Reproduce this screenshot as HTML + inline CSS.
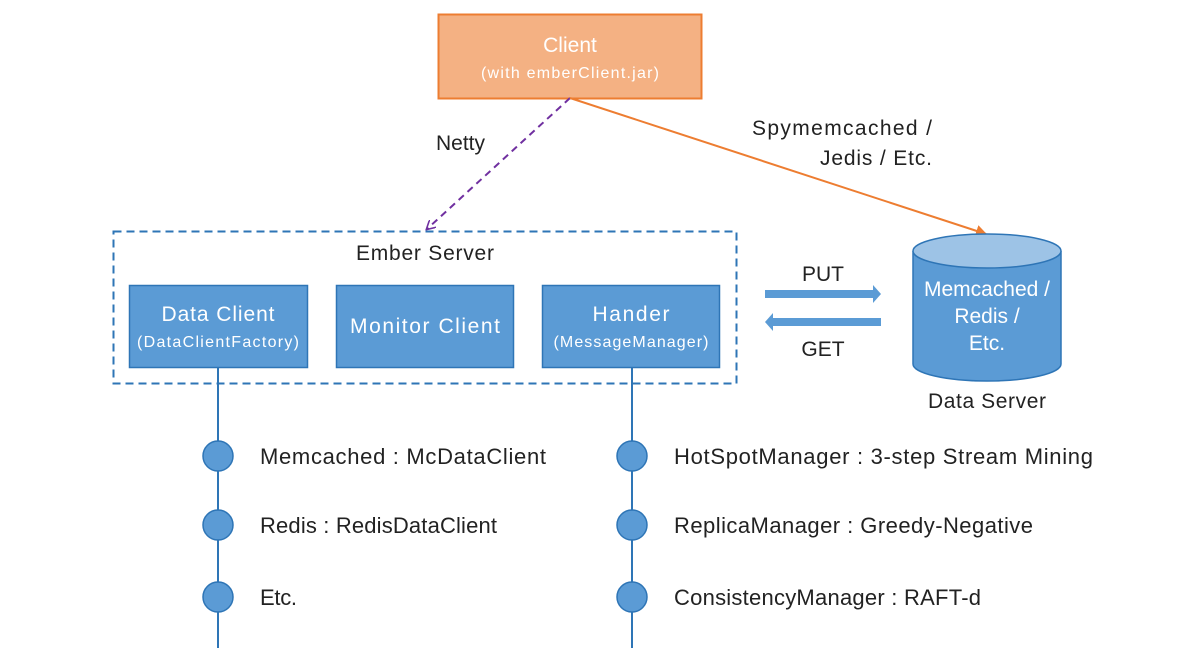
<!DOCTYPE html>
<html><head><style>body{margin:0;background:#fff}svg{display:block}text{font-family:"Liberation Sans",sans-serif}</style></head><body>
<svg width="1200" height="660" viewBox="0 0 1200 660" xmlns="http://www.w3.org/2000/svg">
<defs>
<marker id="ap" markerWidth="10" markerHeight="10" refX="8" refY="5" orient="auto" markerUnits="userSpaceOnUse"><path d="M0,0 L9,5 L0,10" fill="none" stroke="#7030a0" stroke-width="1.6"/></marker>
<marker id="ao" markerWidth="12" markerHeight="12" refX="10" refY="6" orient="auto" markerUnits="userSpaceOnUse"><path d="M0,0 L11,6 L0,12 Z" fill="#ed7d31"/></marker>
</defs>
<rect x="438.5" y="14.5" width="263" height="84" fill="#f4b183" stroke="#ed7d31" stroke-width="2"/>
<text x="570" y="52" font-size="21" fill="#fff" text-anchor="middle">Client</text>
<text x="570" y="78" font-size="16" fill="#fff" text-anchor="middle" textLength="178">(with emberClient.jar)</text>
<line x1="570" y1="98" x2="427" y2="229" stroke="#7030a0" stroke-width="2" stroke-dasharray="7,5" marker-end="url(#ap)"/>
<line x1="570" y1="98" x2="986" y2="234" stroke="#ed7d31" stroke-width="2" marker-end="url(#ao)"/>
<text x="436" y="150" font-size="21" fill="#222">Netty</text>
<text x="932" y="135" font-size="21" fill="#222" text-anchor="end" textLength="180">Spymemcached /</text>
<text x="932" y="165" font-size="21" fill="#222" text-anchor="end" textLength="112">Jedis / Etc.</text>
<rect x="113.5" y="231.5" width="623" height="152" fill="none" stroke="#2e75b6" stroke-width="2" stroke-dasharray="8,5"/>
<text x="425" y="260" font-size="21" fill="#222" text-anchor="middle" textLength="138">Ember Server</text>
<line x1="218" y1="368" x2="218" y2="648" stroke="#2e75b6" stroke-width="2"/>
<line x1="632" y1="368" x2="632" y2="648" stroke="#2e75b6" stroke-width="2"/>
<g fill="#5b9bd5" stroke="#2e75b6" stroke-width="1.5">
<rect x="129.5" y="285.5" width="178" height="82"/>
<rect x="336.5" y="285.5" width="177" height="82"/>
<rect x="542.5" y="285.5" width="177" height="82"/>
</g>
<g fill="#fff" text-anchor="middle">
<text x="218" y="321" font-size="21" textLength="113">Data Client</text>
<text x="218" y="347" font-size="16" textLength="162">(DataClientFactory)</text>
<text x="425" y="333" font-size="21" textLength="150">Monitor Client</text>
<text x="631" y="321" font-size="21" textLength="77">Hander</text>
<text x="631" y="347" font-size="16" textLength="155">(MessageManager)</text>
</g>
<g fill="#5b9bd5" stroke="#2e75b6" stroke-width="1.5">
<circle cx="218" cy="456" r="15"/><circle cx="218" cy="525" r="15"/><circle cx="218" cy="597" r="15"/>
<circle cx="632" cy="456" r="15"/><circle cx="632" cy="525" r="15"/><circle cx="632" cy="597" r="15"/>
</g>
<g font-size="22" fill="#222">
<text x="260" y="464" textLength="286">Memcached : McDataClient</text>
<text x="260" y="533" textLength="237">Redis : RedisDataClient</text>
<text x="260" y="605" textLength="37">Etc.</text>
<text x="674" y="464" textLength="419">HotSpotManager : 3-step Stream Mining</text>
<text x="674" y="533" textLength="359">ReplicaManager : Greedy-Negative</text>
<text x="674" y="605" textLength="307">ConsistencyManager : RAFT-d</text>
</g>
<path d="M765,290 H873 V285 L881,294 L873,303 V298 H765 Z" fill="#5b9bd5"/>
<path d="M881,318 H773 V313 L765,322 L773,331 V326 H881 Z" fill="#5b9bd5"/>
<text x="823" y="281" font-size="21" fill="#222" text-anchor="middle">PUT</text>
<text x="823" y="356" font-size="21" fill="#222" text-anchor="middle">GET</text>
<path d="M913,251 V364 A74,17 0 0 0 1061,364 V251" fill="#5b9bd5" stroke="#2e75b6" stroke-width="1.5"/>
<ellipse cx="987" cy="251" rx="74" ry="17" fill="#9dc3e6" stroke="#2e75b6" stroke-width="1.5"/>
<g fill="#fff" font-size="21" text-anchor="middle">
<text x="987" y="296" textLength="126">Memcached /</text>
<text x="987" y="323">Redis /</text>
<text x="987" y="350">Etc.</text>
</g>
<text x="987" y="408" font-size="21" fill="#222" text-anchor="middle" textLength="118">Data Server</text>
</svg>
</body></html>
